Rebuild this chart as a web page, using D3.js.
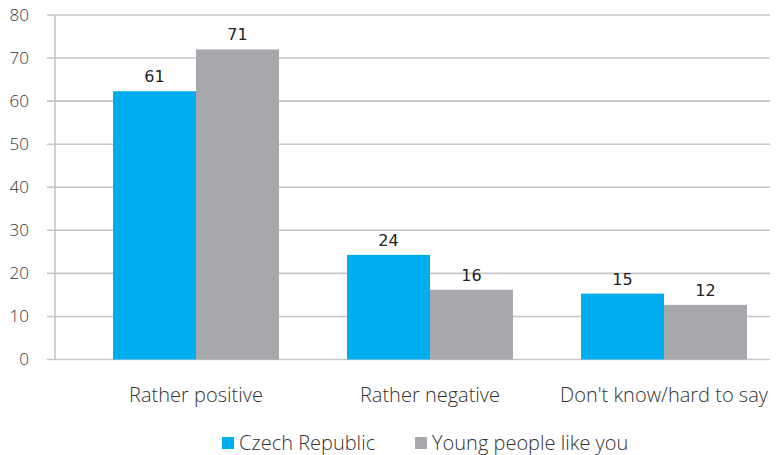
<!DOCTYPE html>
<html><head><meta charset="utf-8">
<script src="https://cdn.jsdelivr.net/npm/d3@7"></script>
<style>body{margin:0;background:#fff}svg{display:block}</style>
</head><body>
<svg id="c" width="776" height="455"></svg>
<script>
const categories = ["Rather positive", "Rather negative", "Don't know/hard to say"];
const seriesNames = ["Czech Republic", "Young people like you"];
const czech = [62.3, 24.3, 15.3];
const young = [72.0, 16.2, 12.7];
const czechLabels = ["61", "24", "15"];
const youngLabels = ["71", "16", "12"];
const yTicks = [0, 10, 20, 30, 40, 50, 60, 70, 80];
const colors = ["#00aeef", "#a7a8ab"];

const svg = d3.select("#c");
const font = "'Open Sans', sans-serif";
const plotL = 55, plotR = 770, y0 = 359.5, y1 = 15;

const y = d3.scaleLinear().domain([0, 80]).range([y0, y1]);
const x = d3.scaleBand().domain(categories).range([79, 781]).padding(0);
const groupW = 166;
const xs = d3.scaleBand().domain(seriesNames).range([0, groupW]).padding(0);

// grid lines
svg.append("g").selectAll("line").data(yTicks).join("line")
  .attr("x1", plotL - 8).attr("x2", plotR)
  .attr("y1", d => y(d)).attr("y2", d => y(d))
  .attr("stroke", "#c6c6c6").attr("stroke-width", 1.6);
// y axis line
svg.append("line").attr("x1", plotL).attr("x2", plotL)
  .attr("y1", y(80)).attr("y2", y(0))
  .attr("stroke", "#c6c6c6").attr("stroke-width", 1.6);
// y tick labels
svg.append("g").selectAll("text").data(yTicks).join("text")
  .attr("x", 29).attr("y", d => y(d)).attr("dy", "0.35em")
  .attr("text-anchor", "end").attr("font-family", font).attr("font-size", 17)
  .attr("font-weight", 300)
  .attr("fill", "#333").text(d => d);

const series = [czech, young];
const labels = [czechLabels, youngLabels];
seriesNames.forEach((s, si) => {
  const g = svg.append("g");
  g.selectAll("rect").data(categories).join("rect")
    .attr("x", (c) => x(c) + x.bandwidth()/2 - groupW/2 + xs(s))
    .attr("width", xs.bandwidth())
    .attr("y", (c, i) => y(series[si][i]))
    .attr("height", (c, i) => y(0) - y(series[si][i]))
    .attr("fill", colors[si]);
  g.selectAll("text").data(categories).join("text")
    .attr("x", (c) => x(c) + x.bandwidth()/2 - groupW/2 + xs(s) + xs.bandwidth()/2)
    .attr("y", (c, i) => y(series[si][i]) - 9)
    .attr("text-anchor", "middle").attr("font-family", "'DejaVu Sans', sans-serif")
    .attr("font-size", 16).attr("fill", "#222").text((c, i) => labels[si][i]);
});

// category labels
const catG = svg.append("g");
catG.selectAll("text").data(categories).join("text")
  .attr("y", 402).attr("text-anchor", "middle")
  .attr("font-family", font).attr("font-size", 20).attr("font-weight", 300)
  .attr("fill", "#333").text(d => d)
  .each(function(d) {
    const w = this.getComputedTextLength();
    let cx = x(d) + x.bandwidth()/2;
    if (cx + w/2 > 768) cx = 768 - w/2;
    d3.select(this).attr("x", cx);
  });

// legend
const leg = svg.append("g");
const legItems = [{n: seriesNames[0], c: colors[0], x: 222}, {n: seriesNames[1], c: colors[1], x: 415}];
leg.selectAll("rect").data(legItems).join("rect")
  .attr("x", d => d.x).attr("y", 437).attr("width", 12).attr("height", 12).attr("fill", d => d.c);
leg.selectAll("text").data(legItems).join("text")
  .attr("x", d => d.x + 17).attr("y", 450)
  .attr("font-family", font).attr("font-size", 20).attr("font-weight", 300)
  .attr("fill", "#333").text(d => d.n);
</script>
</body></html>
